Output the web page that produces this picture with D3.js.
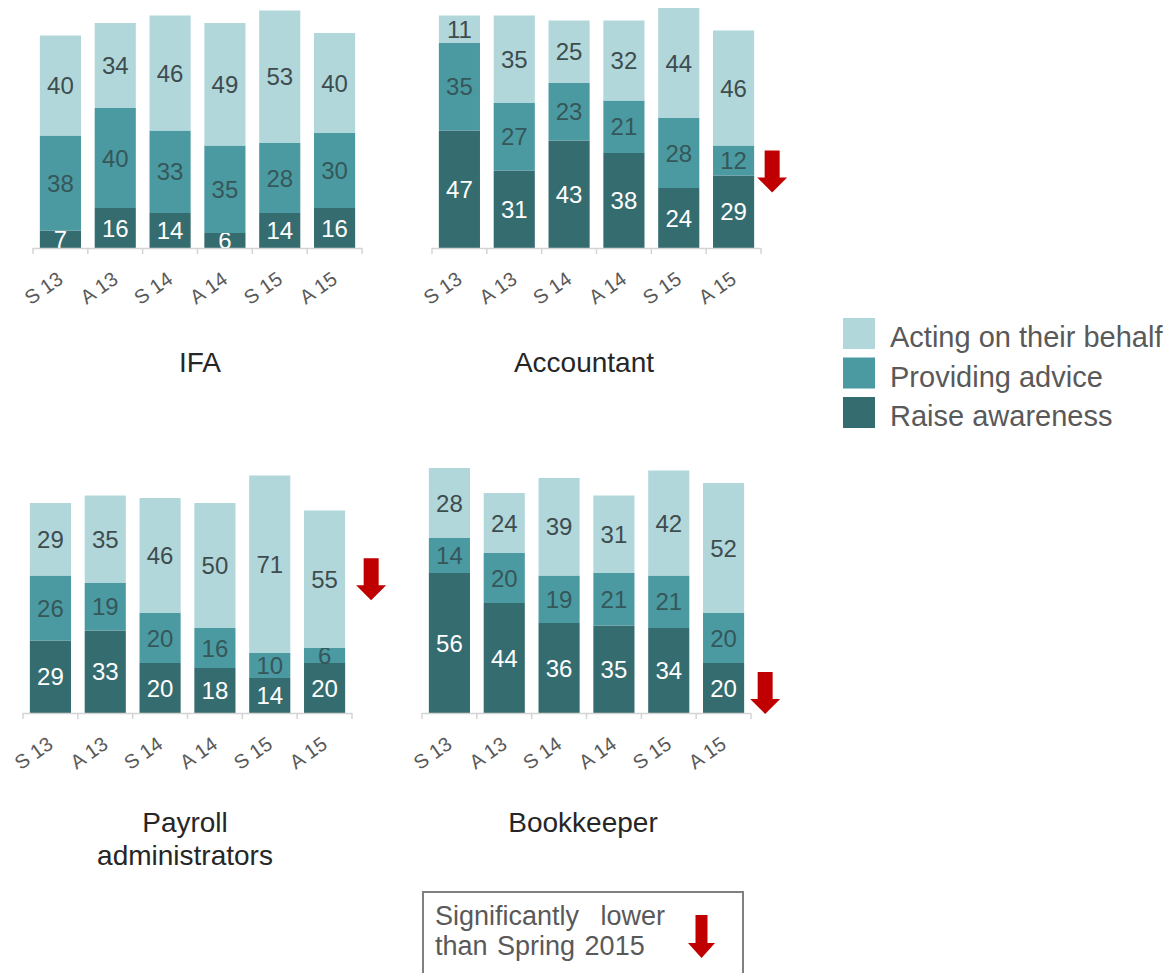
<!DOCTYPE html>
<html>
<head>
<meta charset="utf-8">
<script src="https://cdn.jsdelivr.net/npm/d3@7"></script>
<style>
  html, body { margin: 0; padding: 0; background: #ffffff; }
  svg { display: block; }
  text { font-family: "Liberation Sans", Arial, sans-serif; }
</style>
</head>
<body>
<svg id="chart" width="1173" height="973"></svg>
<script>
// Waves: S = Spring, A = Autumn
const categories = ["S 13", "A 13", "S 14", "A 14", "S 15", "A 15"];
const seriesNames = ["Raise awareness", "Providing advice", "Acting on their behalf"];
const legendOrder = ["Acting on their behalf", "Providing advice", "Raise awareness"];

// IFA
const ifaRaise  = [7, 16, 14, 6, 14, 16];
const ifaAdvice = [38, 40, 33, 35, 28, 30];
const ifaActing = [40, 34, 46, 49, 53, 40];
// Accountant
const accRaise  = [47, 31, 43, 38, 24, 29];
const accAdvice = [35, 27, 23, 21, 28, 12];
const accActing = [11, 35, 25, 32, 44, 46];
// Payroll administrators
const payRaise  = [29, 33, 20, 18, 14, 20];
const payAdvice = [26, 19, 20, 16, 10, 6];
const payActing = [29, 35, 46, 50, 71, 55];
// Bookkeeper
const bkRaise  = [56, 44, 36, 35, 34, 20];
const bkAdvice = [14, 20, 19, 21, 21, 20];
const bkActing = [28, 24, 39, 31, 42, 52];

const panelTitles = [["IFA"], ["Accountant"], ["Payroll", "administrators"], ["Bookkeeper"]];

// Segments significantly lower than Spring 2015 (panel index, series, wave)
const lowerFlags = [
  { panel: 1, series: "Providing advice", wave: "A 15" },
  { panel: 2, series: "Acting on their behalf", wave: "A 15" },
  { panel: 3, series: "Raise awareness", wave: "A 15" }
];

const noteLines = ["Significantly lower", "than Spring 2015"];

const panelSeries = [
  [ifaRaise, ifaAdvice, ifaActing],
  [accRaise, accAdvice, accActing],
  [payRaise, payAdvice, payActing],
  [bkRaise, bkAdvice, bkActing]
];

// ---- layout ----
const panelLayout = [
  { x0: 33,  baseline: 248, titleX: 200, arrowDx: 22, arrowDy: 0 },
  { x0: 432, baseline: 248, titleX: 584, arrowDx: 18, arrowDy: 11 },
  { x0: 23,  baseline: 713, titleX: 185, arrowDx: 26, arrowDy: 0 },
  { x0: 422, baseline: 713, titleX: 583, arrowDx: 21, arrowDy: 5 }
];
const panelWidth = 329;
const unitPx = 2.5;

const colors = {
  "Raise awareness": "#356c6f",
  "Providing advice": "#4b9aa1",
  "Acting on their behalf": "#b1d7db"
};
const labelColors = {
  "Raise awareness": "#ffffff",
  "Providing advice": "#35575a",
  "Acting on their behalf": "#3e4c4e"
};

const svg = d3.select("#chart");

function arrowPath(cx, top, w, h, shaftW, headH) {
  const sL = cx - shaftW / 2, sR = cx + shaftW / 2;
  const hy = top + h - headH;
  return `M${sL},${top} L${sR},${top} L${sR},${hy} L${cx + w / 2},${hy} L${cx},${top + h} L${cx - w / 2},${hy} L${sL},${hy} Z`;
}

panelSeries.forEach((seriesArrays, pi) => {
  const L = panelLayout[pi];
  const rows = categories.map((c, i) => {
    const r = { wave: c };
    seriesNames.forEach((s, si) => { r[s] = seriesArrays[si][i]; });
    return r;
  });
  const stacked = d3.stack().keys(seriesNames)(rows);

  const x = d3.scaleBand()
    .domain(categories)
    .range([L.x0, L.x0 + panelWidth])
    .paddingInner(0.25)
    .paddingOuter(0.125);
  const y = d3.scaleLinear()
    .domain([0, 100])
    .range([L.baseline, L.baseline - 100 * unitPx]);

  const g = svg.append("g").attr("class", "panel");

  // stacked bars
  const layers = g.selectAll("g.layer")
    .data(stacked)
    .join("g")
    .attr("class", "layer")
    .attr("fill", d => colors[d.key]);

  layers.selectAll("rect")
    .data(d => d.map(v => ({ key: d.key, v })))
    .join("rect")
    .attr("x", d => x(d.v.data.wave))
    .attr("width", x.bandwidth())
    .attr("y", d => y(d.v[1]))
    .attr("height", d => y(d.v[0]) - y(d.v[1]));

  // value labels
  layers.selectAll("text")
    .data(d => d.map(v => ({ key: d.key, v })))
    .join("text")
    .attr("x", d => x(d.v.data.wave) + x.bandwidth() / 2)
    .attr("y", d => (y(d.v[0]) + y(d.v[1])) / 2)
    .attr("dy", "0.36em")
    .attr("text-anchor", "middle")
    .attr("font-size", 24)
    .attr("fill", d => labelColors[d.key])
    .text(d => d.v[1] - d.v[0]);

  // category axis: baseline with ticks between the bars
  const step = x.step();
  const bounds = categories.map(c => x(c) - step * x.paddingInner() / 2);
  bounds.push(L.x0 + panelWidth);
  g.append("line")
    .attr("x1", L.x0).attr("x2", L.x0 + panelWidth)
    .attr("y1", L.baseline + 0.5).attr("y2", L.baseline + 0.5)
    .attr("stroke", "#d4d4d4").attr("stroke-width", 1.5);
  g.selectAll("line.tick")
    .data(bounds)
    .join("line")
    .attr("class", "tick")
    .attr("x1", d => d).attr("x2", d => d)
    .attr("y1", L.baseline).attr("y2", L.baseline + 6)
    .attr("stroke", "#d4d4d4").attr("stroke-width", 1.5);

  g.selectAll("text.cat")
    .data(categories)
    .join("text")
    .attr("class", "cat")
    .attr("text-anchor", "end")
    .attr("font-size", 20)
    .attr("fill", "#595959")
    .attr("transform", d => `translate(${x(d) + x.bandwidth() / 2 + 4},${L.baseline + 34}) rotate(-35)`)
    .text(d => d);

  // panel title
  const title = g.append("text")
    .attr("text-anchor", "middle")
    .attr("font-size", 28)
    .attr("fill", "#262626")
    .attr("x", L.titleX)
    .attr("y", pi < 2 ? 372 : 832);
  title.selectAll("tspan")
    .data(panelTitles[pi])
    .join("tspan")
    .attr("x", L.titleX)
    .attr("dy", (d, i) => i === 0 ? 0 : 33)
    .text(d => d);

  // significance arrows
  lowerFlags.filter(f => f.panel === pi).forEach(f => {
    const layer = stacked.find(s => s.key === f.series);
    const seg = layer[categories.indexOf(f.wave)];
    const cy = (y(seg[0]) + y(seg[1])) / 2 + L.arrowDy;
    const cx = x(f.wave) + x.bandwidth() + L.arrowDx;
    g.append("path")
      .attr("d", arrowPath(cx, cy - 21, 30, 42, 15, 15))
      .attr("fill", "#c00000");
  });
});

// legend
const legend = svg.append("g").attr("class", "legend");
legend.selectAll("rect")
  .data(legendOrder)
  .join("rect")
  .attr("x", 843)
  .attr("y", (d, i) => 318 + i * 39.5)
  .attr("width", 32)
  .attr("height", 31)
  .attr("fill", d => colors[d]);
legend.selectAll("text")
  .data(legendOrder)
  .join("text")
  .attr("x", 890)
  .attr("y", (d, i) => 318 + i * 39.5 + 29)
  .attr("font-size", 29)
  .attr("fill", "#595959")
  .text(d => d);

// note box
const note = svg.append("g").attr("class", "note");
note.append("rect")
  .attr("x", 423).attr("y", 892)
  .attr("width", 320).attr("height", 120)
  .attr("fill", "#ffffff")
  .attr("stroke", "#808080")
  .attr("stroke-width", 2);
note.selectAll("text")
  .data(noteLines)
  .join("text")
  .attr("x", 435)
  .attr("y", (d, i) => 925 + i * 30)
  .attr("font-size", 27)
  .attr("word-spacing", (d, i) => i === 0 ? 14 : 2)
  .attr("fill", "#595959")
  .text(d => d);
note.append("path")
  .attr("d", arrowPath(701.5, 915, 27, 43, 12, 15))
  .attr("fill", "#c00000");
</script>
</body>
</html>
